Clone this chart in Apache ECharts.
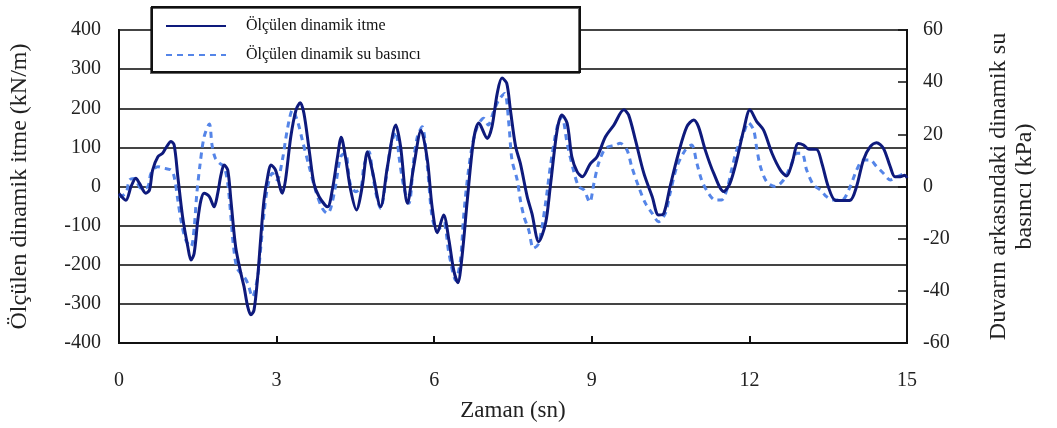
<!DOCTYPE html>
<html>
<head>
<meta charset="utf-8">
<script src="https://cdn.jsdelivr.net/npm/echarts@6/dist/echarts.min.js"></script>
<style>html,body{margin:0;padding:0;background:#fff;}#c{width:1057px;height:428px;}</style>
</head>
<body>
<div id="c"></div>
<script>
// Ölçülen dinamik itme (kN/m) — time (sn) and values
const tItme = [0.00,0.13,0.23,0.32,0.39,0.51,0.58,0.64,0.74,0.83,0.89,0.99,1.05,1.12,1.21,1.31,1.37,1.43,1.50,1.56,1.62,1.72,1.81,1.88,1.94,2.00,2.07,2.13,2.22,2.32,2.38,2.45,2.51,2.57,2.64,2.70,2.76,2.83,2.89,2.98,3.11,3.17,3.27,3.37,3.45,3.52,3.62,3.71,3.81,3.97,4.06,4.16,4.23,4.31,4.41,4.52,4.63,4.73,4.82,4.98,5.11,5.27,5.36,5.49,5.61,5.75,5.87,5.96,6.06,6.18,6.28,6.37,6.45,6.53,6.63,6.75,6.85,7.01,7.10,7.20,7.29,7.38,7.45,7.55,7.64,7.77,7.86,7.99,8.12,8.21,8.34,8.43,8.53,8.62,8.72,8.82,8.97,9.10,9.26,9.42,9.61,9.70,9.83,9.99,10.15,10.27,10.37,10.49,10.65,10.81,10.94,11.03,11.16,11.32,11.51,11.63,11.76,11.89,12.01,12.14,12.27,12.43,12.59,12.71,12.81,12.93,13.03,13.12,13.28,13.38,13.50,13.63,13.76,13.92,14.04,14.17,14.30,14.42,14.55,14.68,14.77,14.87,14.96,15.00];
const vItme = [-18,-35,0,21,8,-17,-9,42,76,85,98,115,106,25,-77,-154,-188,-171,-86,-35,-17,-26,-52,-17,29,55,42,-35,-154,-222,-256,-307,-328,-316,-231,-128,-35,25,55,42,-17,17,127,196,214,187,93,8,-26,-52,-9,76,126,76,-9,-60,0,89,42,-52,51,157,102,-43,51,143,68,-52,-118,-73,-137,-213,-246,-179,-35,119,162,123,153,238,277,264,196,102,59,-26,-69,-141,-94,0,144,183,162,76,38,25,58,76,127,157,196,183,119,34,-26,-73,-69,0,85,153,170,153,93,34,-13,8,68,144,196,166,144,85,42,27,59,110,106,96,95,59,0,-35,-36,-35,0,68,102,112,98,51,25,25,29,22];

// Ölçülen dinamik su basıncı (kPa) — time (sn) and values
const tSu = [0.00,0.13,0.20,0.29,0.42,0.55,0.61,0.74,0.86,0.99,1.05,1.12,1.18,1.27,1.37,1.43,1.48,1.54,1.62,1.72,1.77,1.83,1.91,2.00,2.07,2.13,2.18,2.25,2.38,2.45,2.54,2.64,2.70,2.76,2.83,2.92,3.01,3.11,3.17,3.24,3.30,3.40,3.49,3.62,3.75,3.87,3.97,4.03,4.12,4.22,4.31,4.40,4.51,4.61,4.66,4.76,4.82,4.89,4.98,5.08,5.17,5.27,5.33,5.42,5.52,5.61,5.68,5.77,5.87,5.96,6.06,6.18,6.28,6.41,6.50,6.56,6.63,6.72,6.82,6.94,7.03,7.13,7.23,7.34,7.42,7.48,7.58,7.64,7.71,7.80,7.89,7.99,8.12,8.21,8.34,8.43,8.53,8.65,8.75,8.85,8.96,9.04,9.13,9.26,9.45,9.54,9.67,9.76,9.89,10.02,10.15,10.27,10.40,10.49,10.62,10.78,10.90,11.00,11.09,11.22,11.35,11.47,11.57,11.66,11.76,11.89,11.98,12.08,12.14,12.21,12.33,12.49,12.65,12.78,12.90,13.00,13.09,13.22,13.35,13.47,13.60,13.76,13.92,14.04,14.17,14.30,14.41,14.55,14.68,14.81,14.96];
const vSu = [-4,-2.6,2.5,3.1,-0.7,0,5.1,7.6,7.0,6.3,3.8,-5.2,-12.9,-20.5,-23.1,-16,-3,8,19,24,16,11,9,7.6,1.2,-11.6,-23,-31.4,-34.6,-37.1,-42.3,-34.6,-23.1,-10.3,0,5.1,2.5,10.2,17.8,25.5,29.3,24.9,17.8,7.6,-2.0,-8.4,-10.3,-8.4,0,11.4,12.7,1.2,-2.0,0,7.6,13.3,6.3,-2.6,-8.4,2.5,15.3,21.0,11.4,0,-6.4,10.2,19.1,22.9,7.6,-11.6,-17,-14.1,-25.6,-35.9,-28.2,-11.6,2.5,15.3,22.9,26.2,23.6,28.7,33.2,35.7,24.2,10.2,2.5,-5.2,-11.6,-16.7,-23.7,-21.8,-6.4,7.6,22.9,26.8,16.6,6.3,0,-1.3,-6,1.2,8.9,14.6,15.9,16.6,14.0,7.6,0,-6.4,-10.3,-13.5,-10.3,-2.6,7.6,14.0,15.9,8.9,2.5,-2.6,-5.2,-5.2,-1.3,6.3,14.0,20.4,24.5,21.7,14.6,7.6,1.8,0,2.5,7.6,12.7,12.7,6.3,0.6,-1.3,-3.9,-5.2,-5.2,0,6.3,10.2,10.2,7.9,5.1,2.5,3.8,5.1];

const nameItme = 'Ölçülen dinamik itme';
const nameSu = 'Ölçülen dinamik su basıncı';

const FONT = '"Liberation Serif", "Times New Roman", serif';
const chart = echarts.init(document.getElementById('c'), null, {renderer: 'canvas'});
const labelStyle = {color: '#222', fontFamily: FONT, fontSize: 20};

chart.setOption({
  animation: false,
  backgroundColor: '#fff',
  grid: {left: 119, right: 150, top: 30, bottom: 85, show: true, borderColor: '#111', borderWidth: 2, backgroundColor: 'transparent'},
  legend: {
    z: 20,
    left: 165, top: 18,
    orient: 'vertical',
    itemWidth: 60, itemHeight: 14, itemGap: 13,
    padding: 0,
    data: [nameItme, nameSu],
    itemStyle: {opacity: 0},
    textStyle: {fontFamily: FONT, fontSize: 16, color: '#111', padding: [0, 0, 0, 15]}
  },
  graphic: [{
    type: 'rect', z: 15, silent: true,
    shape: {x: 152, y: 7, width: 428, height: 65},
    style: {fill: '#fff', stroke: '#111', lineWidth: 2, shadowColor: 'rgba(0,0,0,0.6)', shadowOffsetX: -1, shadowOffsetY: 1, shadowBlur: 0}
  }],
  xAxis: {
    type: 'value', min: 0, max: 15, interval: 3,
    name: 'Zaman (sn)', nameLocation: 'middle', nameGap: 56,
    nameTextStyle: {fontFamily: FONT, fontSize: 23, color: '#222'},
    axisLine: {show: true, onZero: false, lineStyle: {color: '#111', width: 2}},
    axisTick: {show: true, inside: true, length: 7, lineStyle: {color: '#111', width: 2}},
    axisLabel: Object.assign({margin: 28}, labelStyle),
    splitLine: {show: false}
  },
  yAxis: [{
    type: 'value', min: -400, max: 400, interval: 100, position: 'left',
    name: 'Ölçülen dinamik itme (kN/m)', nameLocation: 'middle', nameGap: 87, nameRotate: 90,
    nameTextStyle: {fontFamily: FONT, fontSize: 24, color: '#222'},
    axisLine: {show: true, onZero: false, lineStyle: {color: '#111', width: 2}},
    axisTick: {show: false},
    axisLabel: Object.assign({margin: 18}, labelStyle),
    splitLine: {show: true, lineStyle: {color: '#444', width: 1.8}}
  }, {
    type: 'value', min: -60, max: 60, interval: 20, position: 'right',
    name: 'Duvarın arkasındaki dinamik su\nbasıncı (kPa)', nameLocation: 'middle', nameGap: 79, nameRotate: 90,
    nameTextStyle: {fontFamily: FONT, fontSize: 24, color: '#222', lineHeight: 26, align: 'center'},
    axisLine: {show: true, onZero: false, lineStyle: {color: '#111', width: 2}},
    axisTick: {show: true, inside: true, length: 9, lineStyle: {color: '#111', width: 1.5}},
    axisLabel: Object.assign({margin: 16}, labelStyle),
    splitLine: {show: false}
  }],
  series: [{
    name: nameItme, type: 'line', yAxisIndex: 0, smooth: 0.3, symbol: 'none', z: 3,
    data: tItme.map((t, i) => [t, vItme[i]]),
    lineStyle: {color: '#0e1a7c', width: 3},
    itemStyle: {color: '#0e1a7c'}
  }, {
    name: nameSu, type: 'line', yAxisIndex: 1, smooth: 0.3, symbol: 'none', z: 2,
    data: tSu.map((t, i) => [t, vSu[i]]),
    lineStyle: {color: '#5585e8', width: 3, type: [6, 5]},
    itemStyle: {color: '#5585e8'}
  }]
});
</script>
</body>
</html>
